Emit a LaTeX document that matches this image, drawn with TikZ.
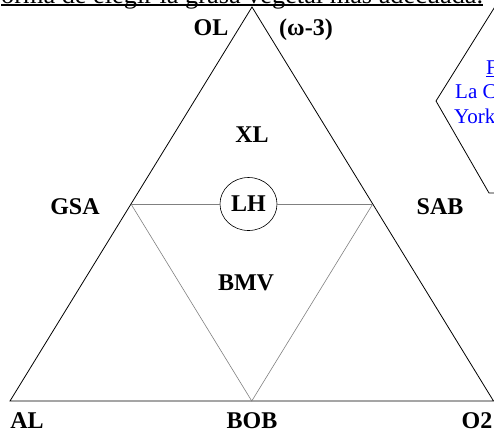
\documentclass[tikz,border=0pt]{standalone}
\usepackage{fontspec}
\setmainfont{Liberation Serif}
\usetikzlibrary{shapes.geometric,calc}
\begin{document}
\begin{tikzpicture}[x=1pt,y=-1pt,
  lbl/.style={font=\fontsize{24}{24}\selectfont\bfseries, inner sep=0pt, anchor=base},
  outer/.style={line width=0.8pt, black},
  inner/.style={line width=0.6pt, black!50},
  blue text/.style={font=\fontsize{21}{21}\selectfont, text=blue, inner sep=0pt, anchor=base west}]
\useasboundingbox (0,0) rectangle (494,432);
% top text of the page (cut)
\node[font=\fontsize{26.3}{26.3}\selectfont, inner sep=0pt, anchor=base west] (top) at (1,3) {orma de elegir la grasa vegetal más adecuada.};
\draw[line width=1.3pt] ([yshift=-2pt]top.base west) -- ([yshift=-2pt]top.base east);
% hexagon on the right (cut)
\coordinate (h1) at (521,-35);
\coordinate (h2) at (436,101);
\coordinate (h3) at (489,193);
\coordinate (h4) at (530,193);
\draw[line width=0.8pt] (h1) -- (h2) -- (h3) -- (h4);
\node[blue text] (f) at (486,74) {F};
\draw[blue, line width=0.9pt] ([yshift=-2pt]f.base west) -- ([yshift=-2pt]f.base east);
\node[blue text] (lac) at (455,98) {La C};
\node[blue text] (york) at (454,123) {York};
% triangle
\coordinate (A) at (252,7);
\coordinate (BL) at (10,401);
\coordinate (BR) at (493.5,401);
\coordinate (ML) at ($(A)!0.5!(BL)$);
\coordinate (MR) at ($(A)!0.5!(BR)$);
\coordinate (MB) at ($(BL)!0.5!(BR)$);
\draw[outer] (A) -- (BL) -- (BR) -- cycle;
\node[ellipse, draw, line width=0.6pt, minimum width=57pt, minimum height=53pt, inner sep=0pt,
      font=\fontsize{24}{24}\selectfont\bfseries] (LH) at (248.5,204) {LH};
\draw[inner] (ML) -- (LH) -- (MR);
\draw[inner] (ML) -- (MB) -- (MR);
% labels
\node[lbl] (OL) at (211,35) {OL};
\node[lbl] (w3) at (306,35) {(ω-3)};
\node[lbl] (XL) at (252,142) {XL};
\node[lbl] (BMV) at (246,290) {BMV};
\node[lbl] (GSA) at (75,214) {GSA};
\node[lbl] (SAB) at (440,214) {SAB};
\node[lbl] (AL) at (27,428) {AL};
\node[lbl] (BOB) at (252,428) {BOB};
\node[lbl] (O2) at (477,428) {O2};
\end{tikzpicture}
\end{document}
